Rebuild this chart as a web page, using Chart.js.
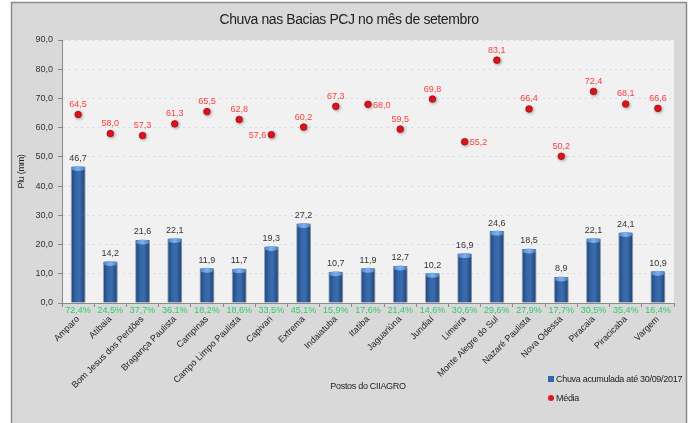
<!DOCTYPE html>
<html>
<head>
<meta charset="utf-8">
<script src="https://cdn.jsdelivr.net/npm/chart.js@4.4.0/dist/chart.umd.min.js"></script>
<style>
  html, body { margin: 0; padding: 0; background: #fff; }
  #wrap { width: 691px; height: 423px; }
</style>
</head>
<body>
<div id="wrap"><canvas id="chuvaChart" width="691" height="423"></canvas></div>
<script>
// Dados
const postos = ['Amparo', 'Atibaia', 'Bom Jesus dos Perdões', 'Bragança Paulista', 'Campinas',
  'Campo Limpo Paulista', 'Capivari', 'Extrema', 'Indaiatuba', 'Itatiba', 'Jaguariúna', 'Jundiaí',
  'Limeira', 'Monte Alegre do Sul', 'Nazaré Paulista', 'Nova Odessa', 'Piracaia', 'Piracicaba', 'Vargem'];
const chuvaAcumulada = [46.7, 14.2, 21.6, 22.1, 11.9, 11.7, 19.3, 27.2, 10.7, 11.9, 12.7, 10.2, 16.9, 24.6, 18.5, 8.9, 22.1, 24.1, 10.9];
const media = [64.5, 58.0, 57.3, 61.3, 65.5, 62.8, 57.6, 60.2, 67.3, 68.0, 59.5, 69.8, 55.2, 83.1, 66.4, 50.2, 72.4, 68.1, 66.6];
const percentual = [72.4, 24.5, 37.7, 36.1, 18.2, 18.6, 33.5, 45.1, 15.9, 17.6, 21.4, 14.6, 30.6, 29.6, 27.9, 17.7, 30.5, 35.4, 16.4];
const yTicks = [0, 10, 20, 30, 40, 50, 60, 70, 80, 90];

const FONT = '"Liberation Sans", Arial, sans-serif';
const fmt = v => v.toFixed(1).replace('.', ',');

// lado do rótulo da média (quase todos em cima)
const ladoMedia = { 6: 'left', 9: 'right', 12: 'right' };

function barGradient(context) {
  const chart = context.chart;
  const xs = chart.scales && chart.scales.x;
  if (!chart.chartArea || !xs || context.dataIndex === undefined) return '#2f5f9e';
  const cx = xs.getPixelForValue(context.dataIndex);
  const w = 15;
  if (!Number.isFinite(cx)) return '#2f5f9e';
  const g = chart.ctx.createLinearGradient(cx - w / 2, 0, cx + w / 2, 0);
  g.addColorStop(0, '#1d4479');
  g.addColorStop(0.35, '#3566a8');
  g.addColorStop(0.6, '#3a6cae');
  g.addColorStop(1, '#1b3f70');
  return g;
}

const fundo = {
  id: 'fundo',
  beforeDraw(chart) {
    const c = chart.ctx;
    const a = chart.chartArea;
    c.save();
    c.fillStyle = '#fff';
    c.fillRect(0, 0, chart.width, chart.height);
    c.fillStyle = '#d9d9d9';
    c.fillRect(11, 2, 676, 430);
    c.strokeStyle = '#8a8a8a';
    c.lineWidth = 1.5;
    c.strokeRect(11.5, 2.5, 675, 430);
    c.fillStyle = '#f1f1f1';
    c.fillRect(a.left, a.top, a.right - a.left, a.bottom - a.top);
    c.restore();
  },
  // sombra leve nas barras e nos pontos
  beforeDatasetDraw(chart) {
    const c = chart.ctx;
    c.save();
    c.shadowColor = 'rgba(0,0,0,0.3)';
    c.shadowBlur = 3;
    c.shadowOffsetX = 1;
    c.shadowOffsetY = 1;
  },
  afterDatasetDraw(chart) {
    chart.ctx.restore();
  }
};

const rotulos = {
  id: 'rotulos',
  afterDatasetsDraw(chart) {
    const c = chart.ctx;
    const barras = chart.getDatasetMeta(0).data;
    const pontos = chart.getDatasetMeta(1).data;
    c.save();
    // brilho no topo das barras
    barras.forEach(b => {
      const w = b.width;
      const g = c.createLinearGradient(b.x - w / 2, 0, b.x + w / 2, 0);
      g.addColorStop(0, '#4d82c6');
      g.addColorStop(0.5, '#7fb1ee');
      g.addColorStop(1, '#4a7cbd');
      c.fillStyle = g;
      c.beginPath();
      c.ellipse(b.x, b.y + 2, w / 2 - 0.5, 2.5, 0, 0, Math.PI * 2);
      c.fill();
    });
    c.font = '9px ' + FONT;
    c.textBaseline = 'middle';
    // valores das barras
    c.fillStyle = '#333';
    c.textAlign = 'center';
    barras.forEach((b, i) => c.fillText(fmt(chuvaAcumulada[i]), b.x, b.y - 8));
    // valores da média
    c.fillStyle = '#ff3b3b';
    pontos.forEach((p, i) => {
      const lado = ladoMedia[i];
      if (lado === 'left') { c.textAlign = 'right'; c.fillText(fmt(media[i]), p.x - 5, p.y + 1); }
      else if (lado === 'right') { c.textAlign = 'left'; c.fillText(fmt(media[i]), p.x + 5, p.y + 1); }
      else { c.textAlign = 'center'; c.fillText(fmt(media[i]), p.x, p.y - 10); }
    });
    // percentuais sob o eixo
    c.fillStyle = '#2ecc6a';
    c.textAlign = 'center';
    const yb = chart.chartArea.bottom + 8;
    barras.forEach((b, i) => c.fillText(fmt(percentual[i]) + '%', b.x, yb));
    c.restore();
  },
  afterDraw(chart) {
    const c = chart.ctx;
    const a = chart.chartArea;
    c.save();
    c.fillStyle = '#222';
    c.textBaseline = 'middle';
    // título
    c.font = '14px ' + FONT;
    c.textAlign = 'center';
    c.letterSpacing = '-0.4px';
    c.fillText('Chuva nas Bacias PCJ no mês de setembro', 349, 20);
    // títulos dos eixos
    c.font = '9px ' + FONT;
    c.letterSpacing = '-0.3px';
    c.fillText('Postos do CIIAGRO', (a.left + a.right) / 2, 387);
    c.save();
    c.translate(22, (a.top + a.bottom) / 2);
    c.rotate(-Math.PI / 2);
    c.fillText('Plu (mm)', 0, 0);
    c.restore();
    // legenda
    c.textAlign = 'left';
    c.fillStyle = '#3566a8';
    c.fillRect(548, 376, 6, 6);
    c.fillStyle = '#222';
    c.fillText('Chuva acumulada até 30/09/2017', 556, 379.5);
    c.fillStyle = '#e8141c';
    c.beginPath();
    c.arc(551, 398, 3, 0, Math.PI * 2);
    c.fill();
    c.fillStyle = '#222';
    c.fillText('Média', 556, 398.5);
    c.restore();
  }
};

new Chart(document.getElementById('chuvaChart'), {
  data: {
    labels: postos,
    datasets: [{
      type: 'bar',
      label: 'Chuva acumulada até 30/09/2017',
      data: chuvaAcumulada,
      backgroundColor: barGradient,
      borderColor: 'rgba(150,160,175,0.8)',
      borderWidth: { left: 1, right: 1, top: 0, bottom: 0 },
      barPercentage: 0.46,
      categoryPercentage: 1,
      order: 2
    }, {
      type: 'line',
      label: 'Média',
      data: media,
      showLine: false,
      pointRadius: 3.3,
      pointBackgroundColor: '#e8141c',
      pointBorderColor: '#a80d12',
      pointBorderWidth: 0.8,
      order: 1
    }]
  },
  options: {
    responsive: false,
    animation: false,
    layout: { padding: { left: 12, right: 17, top: 40, bottom: 0 } },
    plugins: {
      legend: { display: false },
      title: { display: false },
      tooltip: { enabled: false }
    },
    scales: {
      x: {
        offset: true,
        afterFit(scale) { scale.height = 120; },
        grid: { drawOnChartArea: false, drawTicks: true, tickLength: 4, tickColor: '#8a8a8a', offset: true },
        border: { color: '#8a8a8a', width: 1 },
        ticks: {
          autoSkip: false,
          maxRotation: 45,
          minRotation: 45,
          padding: 7,
          color: '#222',
          font: { family: FONT, size: 9 }
        }
      },
      y: {
        min: 0,
        max: 90,
        afterFit(scale) { scale.width = 50; },
        afterBuildTicks(scale) { scale.ticks = yTicks.map(v => ({ value: v })); },
        grid: { color: '#d3d9ea', tickColor: '#8a8a8a', tickLength: 4, tickBorderDash: [] },
        border: { color: '#8a8a8a', width: 1, dash: [2, 4] },
        ticks: {
          padding: 5,
          color: '#333',
          font: { family: FONT, size: 9 },
          callback: v => fmt(v)
        }
      }
    }
  },
  plugins: [fundo, rotulos]
});
</script>
</body>
</html>
